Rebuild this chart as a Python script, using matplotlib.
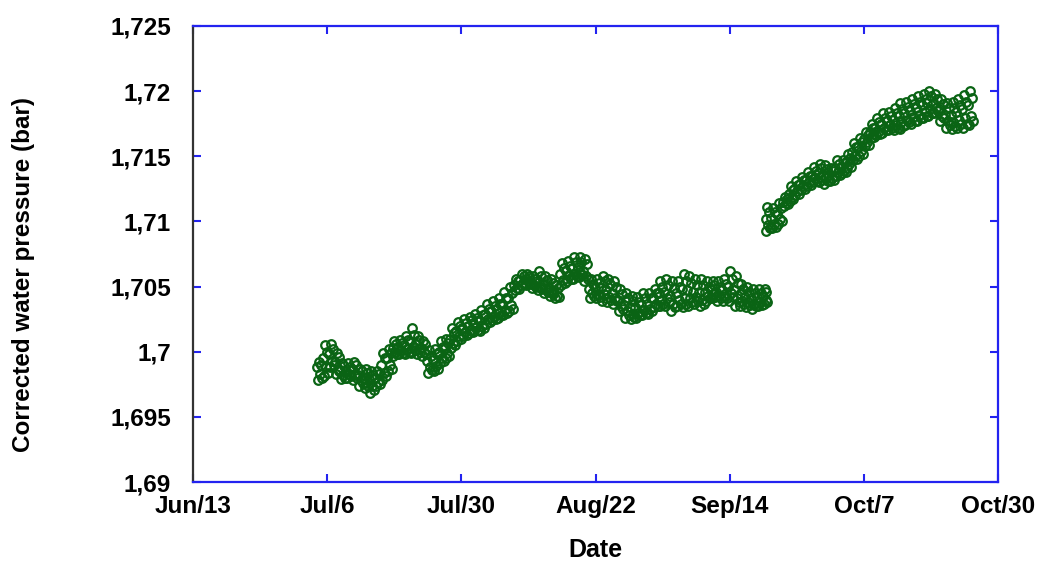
import matplotlib
matplotlib.use("Agg")
import matplotlib.pyplot as plt
import numpy as np

# six readings a day (00, 04, 08, 12, 16, 20 h); day 0 = Jun 13
seg1_start = 21.5
seg1 = [
    (1.6988, 1.6978, 1.6992, 1.6983, 1.6990, 1.6980),
    (1.6995, 1.6981, 1.7005, 1.6988, 1.7000, 1.6984),
    (1.6998, 1.6988, 1.7006, 1.6993, 1.7002, 1.6990),
    (1.6992, 1.6983, 1.6999, 1.6987, 1.6996, 1.6985),
    (1.6986, 1.6979, 1.6991, 1.6982, 1.6989, 1.6980),
    (1.6985, 1.6980, 1.6991, 1.6983, 1.6988, 1.6981),
    (1.6987, 1.6978, 1.6992, 1.6982, 1.6990, 1.6980),
    (1.6982, 1.6974, 1.6987, 1.6978, 1.6985, 1.6976),
    (1.6980, 1.6972, 1.6987, 1.6976, 1.6984, 1.6974),
    (1.6979, 1.6968, 1.6985, 1.6974, 1.6982, 1.6971),
    (1.6980, 1.6974, 1.6985, 1.6977, 1.6983, 1.6975),
    (1.6990, 1.6978, 1.6999, 1.6984, 1.6995, 1.6981),
    (1.6995, 1.6985, 1.7002, 1.6990, 1.6999, 1.6987),
    (1.7003, 1.6997, 1.7008, 1.7000, 1.7006, 1.6998),
    (1.7004, 1.6998, 1.7009, 1.7001, 1.7007, 1.6999),
    (1.7005, 1.6998, 1.7012, 1.7002, 1.7009, 1.7000),
    (1.7008, 1.6999, 1.7018, 1.7004, 1.7013, 1.7001),
    (1.7006, 1.6998, 1.7012, 1.7002, 1.7009, 1.7000),
    (1.7003, 1.6997, 1.7008, 1.7000, 1.7006, 1.6998),
    (1.6993, 1.6984, 1.7001, 1.6988, 1.6997, 1.6986),
    (1.6994, 1.6985, 1.7002, 1.6989, 1.6998, 1.6987),
    (1.7000, 1.6991, 1.7008, 1.6995, 1.7004, 1.6993),
    (1.7003, 1.6995, 1.7010, 1.6999, 1.7007, 1.6997),
    (1.7010, 1.7003, 1.7018, 1.7007, 1.7014, 1.7005),
    (1.7016, 1.7008, 1.7023, 1.7012, 1.7020, 1.7010),
    (1.7018, 1.7012, 1.7025, 1.7015, 1.7022, 1.7013),
    (1.7020, 1.7014, 1.7027, 1.7017, 1.7024, 1.7015),
    (1.7022, 1.7016, 1.7029, 1.7019, 1.7026, 1.7017),
    (1.7024, 1.7016, 1.7032, 1.7020, 1.7028, 1.7018),
    (1.7029, 1.7021, 1.7037, 1.7025, 1.7033, 1.7023),
    (1.7031, 1.7024, 1.7039, 1.7027, 1.7035, 1.7025),
    (1.7033, 1.7026, 1.7041, 1.7030, 1.7037, 1.7028),
    (1.7037, 1.7028, 1.7046, 1.7032, 1.7041, 1.7030),
    (1.7041, 1.7031, 1.7050, 1.7036, 1.7045, 1.7033),
    (1.7051, 1.7047, 1.7056, 1.7049, 1.7054, 1.7048),
    (1.7055, 1.7051, 1.7060, 1.7053, 1.7058, 1.7052),
    (1.7056, 1.7051, 1.7060, 1.7054, 1.7058, 1.7052),
    (1.7053, 1.7049, 1.7058, 1.7051, 1.7056, 1.7050),
    (1.7054, 1.7047, 1.7062, 1.7050, 1.7058, 1.7048),
    (1.7051, 1.7045, 1.7058, 1.7048, 1.7055, 1.7046),
    (1.7049, 1.7043, 1.7056, 1.7046, 1.7053, 1.7044),
    (1.7046, 1.7041, 1.7051, 1.7043, 1.7049, 1.7042),
    (1.7060, 1.7051, 1.7068, 1.7055, 1.7064, 1.7053),
    (1.7062, 1.7054, 1.7070, 1.7058, 1.7066, 1.7056),
    (1.7064, 1.7056, 1.7073, 1.7060, 1.7069, 1.7058),
    (1.7065, 1.7057, 1.7073, 1.7061, 1.7069, 1.7059),
    (1.7062, 1.7054, 1.7071, 1.7058, 1.7067, 1.7056),
    (1.7048, 1.7041, 1.7056, 1.7045, 1.7052, 1.7043),
    (1.7049, 1.7041, 1.7056, 1.7044, 1.7053, 1.7042),
    (1.7049, 1.7039, 1.7058, 1.7044, 1.7054, 1.7041),
    (1.7047, 1.7038, 1.7056, 1.7042, 1.7052, 1.7040),
    (1.7045, 1.7037, 1.7054, 1.7041, 1.7050, 1.7039),
    (1.7040, 1.7031, 1.7048, 1.7035, 1.7044, 1.7033),
    (1.7036, 1.7026, 1.7045, 1.7031, 1.7041, 1.7028),
    (1.7034, 1.7025, 1.7043, 1.7029, 1.7039, 1.7027),
    (1.7034, 1.7026, 1.7042, 1.7030, 1.7038, 1.7028),
    (1.7036, 1.7028, 1.7045, 1.7032, 1.7041, 1.7030),
    (1.7037, 1.7029, 1.7045, 1.7033, 1.7041, 1.7031),
    (1.7041, 1.7034, 1.7048, 1.7037, 1.7045, 1.7035),
    (1.7045, 1.7035, 1.7054, 1.7040, 1.7050, 1.7037),
    (1.7046, 1.7035, 1.7056, 1.7041, 1.7051, 1.7038),
    (1.7043, 1.7031, 1.7054, 1.7037, 1.7049, 1.7034),
    (1.7045, 1.7035, 1.7054, 1.7040, 1.7050, 1.7037),
    (1.7048, 1.7034, 1.7060, 1.7041, 1.7054, 1.7037),
    (1.7047, 1.7035, 1.7058, 1.7041, 1.7053, 1.7038),
    (1.7046, 1.7037, 1.7056, 1.7042, 1.7051, 1.7039),
    (1.7046, 1.7035, 1.7056, 1.7040, 1.7051, 1.7037),
    (1.7046, 1.7039, 1.7054, 1.7043, 1.7050, 1.7041),
    (1.7047, 1.7041, 1.7054, 1.7044, 1.7051, 1.7042),
    (1.7046, 1.7039, 1.7054, 1.7043, 1.7050, 1.7041),
    (1.7047, 1.7039, 1.7056, 1.7043, 1.7052, 1.7041),
    (1.7050, 1.7039, 1.7062, 1.7045, 1.7056, 1.7042),
    (1.7047, 1.7035, 1.7058, 1.7041, 1.7053, 1.7038),
    (1.7044, 1.7035, 1.7052, 1.7039, 1.7048, 1.7037),
    (1.7042, 1.7034, 1.7050, 1.7038, 1.7046, 1.7036),
    (1.7041, 1.7033, 1.7048, 1.7037, 1.7045, 1.7035),
    (1.7042, 1.7035, 1.7048, 1.7038, 1.7045, 1.7036),
    (1.7043, 1.7037, 1.7048, 1.7040, 1.7046, 1.7038),
]

seg2_start = 99.0
seg2 = [
    (1.7102, 1.7093, 1.7111, 1.7097, 1.7107, 1.7095),
    (1.7103, 1.7095, 1.7110, 1.7098, 1.7107, 1.7096),
    (1.7106, 1.7098, 1.7114, 1.7102, 1.7110, 1.7100),
    (1.7115, 1.7112, 1.7119, 1.7114, 1.7117, 1.7113),
    (1.7121, 1.7116, 1.7127, 1.7119, 1.7124, 1.7117),
    (1.7125, 1.7120, 1.7131, 1.7123, 1.7128, 1.7121),
    (1.7129, 1.7124, 1.7134, 1.7127, 1.7132, 1.7125),
    (1.7132, 1.7127, 1.7138, 1.7130, 1.7135, 1.7128),
    (1.7135, 1.7130, 1.7142, 1.7133, 1.7139, 1.7131),
    (1.7137, 1.7130, 1.7144, 1.7134, 1.7141, 1.7132),
    (1.7136, 1.7129, 1.7143, 1.7133, 1.7140, 1.7131),
    (1.7136, 1.7131, 1.7141, 1.7133, 1.7139, 1.7132),
    (1.7141, 1.7135, 1.7147, 1.7138, 1.7144, 1.7136),
    (1.7142, 1.7137, 1.7147, 1.7139, 1.7145, 1.7138),
    (1.7146, 1.7141, 1.7152, 1.7144, 1.7149, 1.7142),
    (1.7153, 1.7147, 1.7160, 1.7150, 1.7157, 1.7148),
    (1.7157, 1.7150, 1.7164, 1.7154, 1.7161, 1.7152),
    (1.7163, 1.7158, 1.7169, 1.7161, 1.7166, 1.7159),
    (1.7169, 1.7164, 1.7175, 1.7167, 1.7172, 1.7165),
    (1.7172, 1.7166, 1.7179, 1.7169, 1.7176, 1.7167),
    (1.7175, 1.7168, 1.7183, 1.7172, 1.7179, 1.7170),
    (1.7177, 1.7170, 1.7184, 1.7174, 1.7181, 1.7172),
    (1.7178, 1.7170, 1.7187, 1.7174, 1.7183, 1.7172),
    (1.7181, 1.7171, 1.7191, 1.7176, 1.7186, 1.7173),
    (1.7183, 1.7174, 1.7192, 1.7178, 1.7188, 1.7176),
    (1.7185, 1.7175, 1.7194, 1.7180, 1.7190, 1.7177),
    (1.7187, 1.7177, 1.7196, 1.7182, 1.7192, 1.7179),
    (1.7189, 1.7179, 1.7198, 1.7184, 1.7194, 1.7181),
    (1.7191, 1.7181, 1.7200, 1.7186, 1.7196, 1.7183),
    (1.7190, 1.7183, 1.7198, 1.7187, 1.7194, 1.7185),
    (1.7186, 1.7177, 1.7194, 1.7181, 1.7190, 1.7179),
    (1.7182, 1.7172, 1.7191, 1.7177, 1.7187, 1.7174),
    (1.7182, 1.7171, 1.7192, 1.7176, 1.7187, 1.7173),
    (1.7184, 1.7172, 1.7194, 1.7178, 1.7189, 1.7175),
    (1.7186, 1.7172, 1.7197, 1.7179, 1.7192, 1.7175),
    (1.7189, 1.7174, 1.7200, 1.7181, 1.7195, 1.7177),
]

hours = [0, 4, 8, 12, 16, 20]
date_labels = ["Jun/13", "Jul/6", "Jul/30", "Aug/22", "Sep/14", "Oct/7", "Oct/30"]
y_ticks = [1.69, 1.695, 1.70, 1.705, 1.71, 1.715, 1.72, 1.725]
y_labels = ["1,69", "1,695", "1,7", "1,705", "1,71", "1,715", "1,72", "1,725"]


def to_xy(start, rows):
    x, y = [], []
    for i, row in enumerate(rows):
        for h, v in zip(hours, row):
            x.append(start + i + h / 24)
            y.append(v)
    return np.array(x), np.array(y)


plt.rcParams['font.family'] = ['Liberation Sans', 'DejaVu Sans']
plt.rcParams['font.weight'] = 'bold'

blue = '#2323f0'
green = '#0a6414'

fig = plt.figure(figsize=(10.42, 5.61), dpi=100)
ax = fig.add_axes([0.1852, 0.1408, 0.7726, 0.8129])

for start, rows in [(seg1_start, seg1), (seg2_start, seg2)]:
    x, y = to_xy(start, rows)
    ax.plot(x, y, linestyle='none', marker='o', markersize=6.2,
            markerfacecolor='none', markeredgecolor=green, markeredgewidth=1.6)

x_max = 139.2
ax.set_xlim(0, x_max)
ax.set_ylim(1.69, 1.725)
ax.set_xticks(np.linspace(0, x_max, len(date_labels)))
ax.set_xticklabels(date_labels)
ax.set_yticks(y_ticks)
ax.set_yticklabels(y_labels)

ax.tick_params(direction='in', length=6, width=1.5, color=blue,
               top=True, right=True, labelsize=17.5)
ax.tick_params(axis='x', pad=9)
ax.tick_params(axis='y', pad=16)
for side in ['top', 'right', 'bottom']:
    ax.spines[side].set_color(blue)
    ax.spines[side].set_linewidth(1.6)
ax.spines['left'].set_color('#333333')
ax.spines['left'].set_linewidth(1.6)

ax.set_xlabel('Date', fontsize=18, fontweight='bold')
ax.set_ylabel('Corrected water pressure (bar)', fontsize=17.5, fontweight='bold')
ax.xaxis.set_label_coords(0.5, -0.123)
ax.yaxis.set_label_coords(-0.196, 0.454)

fig.savefig('out.png', dpi=100, facecolor='white')
